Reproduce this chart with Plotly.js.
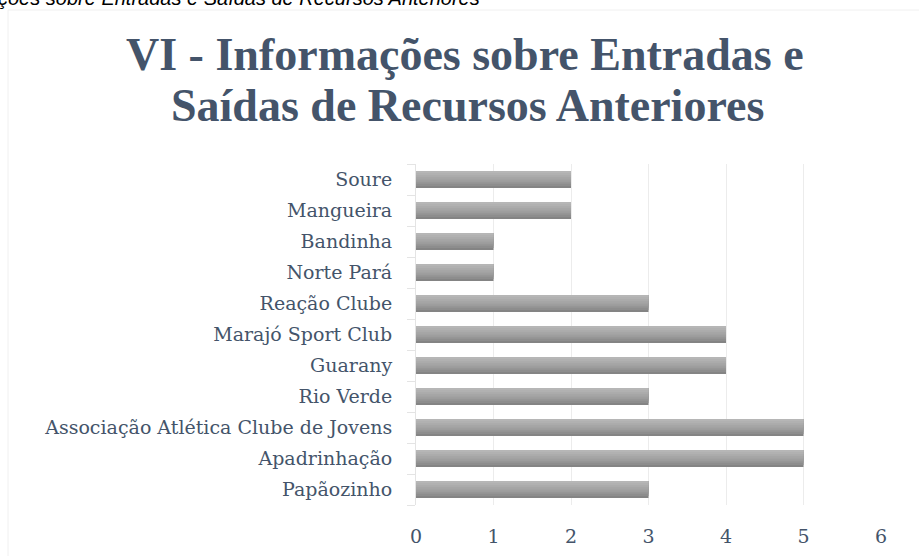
<!DOCTYPE html>
<html><head><meta charset="utf-8">
<script src="https://cdn.plot.ly/plotly-3.0.1.min.js"></script>
<style>html,body{margin:0;padding:0;background:#fff;}#chart{width:919px;height:556px;}</style>
</head><body><div id="chart"></div>
<script>
const categories = ["Papãozinho","Apadrinhação","Associação Atlética Clube de Jovens","Rio Verde","Guarany","Marajó Sport Club","Reação Clube","Norte Pará","Bandinha","Mangueira","Soure"];
const values = [3,5,5,3,4,4,3,1,1,2,2];
const xTicks = [0,1,2,3,4,5,6];
const titleLines = ["VI - Informações sobre Entradas e", "Saídas de Recursos Anteriores"];
const captionText = "ções sobre Entradas e Saídas de Recursos Anteriores";

// vertical gradient of the bars, bottom (dark) to top (light)
const bandColors = ["#848484","#8d8d8d","#969696","#9e9e9e","#a5a5a5","#ababab","#b1b1b1","#b6b6b6"];
const barThick = 0.55;
const W = 919, H = 556;
const m = {l:416, r:38, t:164, b:51};
const pw = W - m.l - m.r, ph = H - m.t - m.b;
const px = x => (x - m.l) / pw;
const py = y => (H - m.b - y) / ph;

const n = bandColors.length;
const traces = bandColors.map((c, i) => ({
  type: 'bar', orientation: 'h',
  x: values, y: categories,
  width: barThick * (n - i) / n,
  offset: -barThick/2 + i * barThick / n,
  marker: {color: c, line: {width: 0}},
  hoverinfo: 'skip', showlegend: false
}));

const titleFont = {family: 'Liberation Serif, serif', size: 46, color: '#44546a', weight: 'bold'};

const layout = {
  width: W, height: H,
  margin: m,
  paper_bgcolor: '#ffffff', plot_bgcolor: '#ffffff',
  barmode: 'overlay',
  font: {family: 'DejaVu Serif, serif', color: '#44546a'},
  xaxis: {
    range: [0, 6], tickvals: xTicks, ticktext: xTicks.map(String),
    showgrid: true, gridcolor: '#ececec', gridwidth: 1,
    zeroline: false, showline: false, ticks: '',
    ticklabelstandoff: 18,
    tickfont: {family: 'DejaVu Serif, serif', size: 19, color: '#44546a'},
    fixedrange: true
  },
  yaxis: {
    type: 'category', categoryorder: 'array', categoryarray: categories,
    showgrid: false, zeroline: false,
    showline: true, linecolor: '#e4e4e4', linewidth: 1,
    ticks: 'outside', tickson: 'boundaries', ticklen: 8, tickcolor: '#e4e4e4',
    ticklabelstandoff: 19,
    tickfont: {family: 'DejaVu Serif, serif', size: 19, color: '#44546a'},
    fixedrange: true
  },
  shapes: [{
    type: 'rect', xref: 'paper', yref: 'paper',
    x0: px(8), x1: px(930), y0: py(570), y1: py(10),
    line: {color: '#f0f0f0', width: 1}, fillcolor: 'rgba(0,0,0,0)', layer: 'below'
  }],
  annotations: [
    {
      text: titleLines[0], showarrow: false,
      xref: 'paper', yref: 'paper', x: px(465), y: py(54),
      xanchor: 'center', yanchor: 'middle', font: titleFont
    },
    {
      text: titleLines[1], showarrow: false,
      xref: 'paper', yref: 'paper', x: px(467), y: py(106),
      xanchor: 'center', yanchor: 'middle', font: titleFont
    },
    {
      text: captionText, showarrow: false,
      xref: 'paper', yref: 'paper', x: px(-4), y: py(11),
      xanchor: 'left', yanchor: 'bottom',
      font: {family: 'Liberation Sans, sans-serif', size: 20, color: '#000000', style: 'italic'}
    }
  ]
};

Plotly.newPlot('chart', traces, layout, {displayModeBar: false, staticPlot: true});
</script></body></html>
